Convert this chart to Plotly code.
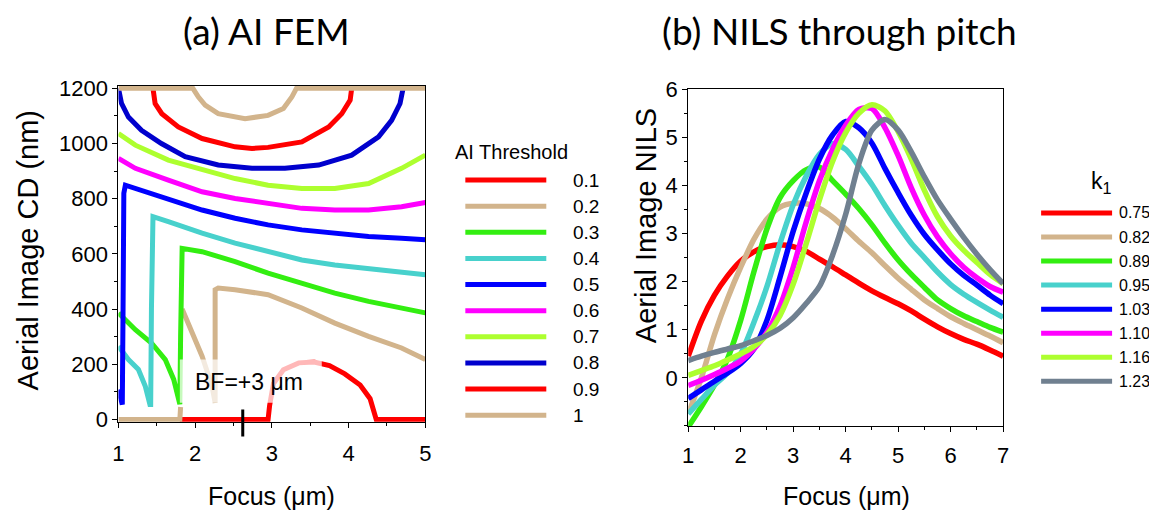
import plotly.graph_objects as go

W, H = 1157, 517

# ---------------- (a) AI FEM contour data ----------------
AI_LEVELS = ["0.1", "0.2", "0.3", "0.4", "0.5", "0.6", "0.7", "0.8", "0.9", "1"]
AI_COLORS = ["#FF0000", "#D2B48C", "#33EE11", "#48D1CC", "#0000FF",
             "#FF00FF", "#ADFF2F", "#0000CD", "#FF0000", "#D2B48C"]

C01_X = [1.80, 2.95, 2.97, 3.02, 3.15, 3.35, 3.55, 3.75, 3.95, 4.15, 4.28, 4.33, 4.36, 5.0]
C01_Y = [0, 0, 50, 130, 180, 205, 208, 195, 165, 125, 75, 30, 0, 0]
C02_X = [1.0, 1.80, 1.81, None, 1.83, 1.96, 2.09, 2.22, 2.26, 2.26, 2.30, 2.52, 2.95, 3.39, 3.82, 4.26, 4.69, 5.0]
C02_Y = [0, 0, 45, None, 400, 313, 229, 120, 60, 470, 476, 470, 452, 404, 349, 301, 259, 217]
C03_X = [1.0, 1.22, 1.43, 1.61, 1.72, 1.78, 1.80, 1.81, 1.82, 1.83, 2.09, 2.52, 2.95, 3.39, 3.82, 4.26, 4.69, 5.0]
C03_Y = [386, 325, 277, 217, 145, 72, 55, 300, 600, 620, 608, 572, 530, 494, 458, 428, 404, 386]
C04_X = [1.0, 1.13, 1.26, 1.35, 1.41, 1.42, 1.43, 1.45, 1.65, 2.09, 2.52, 2.95, 3.39, 3.82, 4.26, 4.69, 5.0]
C04_Y = [265, 217, 181, 120, 54, 54, 400, 735, 717, 675, 639, 608, 578, 560, 548, 536, 524]
C05_X = [1.0, 1.04, 1.05, 1.06, 1.07, 1.09, 1.22, 1.65, 2.09, 2.52, 2.95, 3.39, 3.82, 4.26, 4.69, 5.0]
C05_Y = [108, 54, 54, 400, 820, 849, 837, 795, 759, 729, 705, 687, 675, 663, 657, 651]
C06_X = [1.0, 1.22, 1.65, 2.09, 2.52, 2.95, 3.39, 3.82, 4.26, 4.69, 5.0]
C06_Y = [946, 910, 867, 825, 801, 783, 765, 759, 759, 771, 786]
C07_X = [1.0, 1.22, 1.65, 2.09, 2.52, 2.95, 3.39, 3.82, 4.26, 4.69, 5.0]
C07_Y = [1036, 994, 940, 904, 873, 849, 837, 837, 855, 910, 958]
C08_X = [1.0, 1.04, 1.13, 1.30, 1.56, 1.87, 2.30, 2.74, 3.17, 3.61, 4.04, 4.39, 4.56, 4.67, 4.71]
C08_Y = [1200, 1145, 1096, 1048, 1000, 952, 922, 910, 910, 922, 958, 1024, 1084, 1145, 1200]
C09_X = [1.45, 1.478, 1.565, 1.78, 2.09, 2.52, 2.74, 2.95, 3.39, 3.74, 3.91, 4.02, 4.04]
C09_Y = [1200, 1145, 1108, 1060, 1018, 988, 982, 986, 1006, 1060, 1108, 1157, 1200]
C10_X = [1.0, 1.97, 2.04, 2.13, 2.30, 2.65, 2.95, 3.15, 3.26, 3.32, 5.0]
C10_Y = [1200, 1200, 1169, 1139, 1108, 1090, 1102, 1127, 1169, 1200, 1200]

CONTOURS_X = [C01_X, C02_X, C03_X, C04_X, C05_X, C06_X, C07_X, C08_X, C09_X, C10_X]
CONTOURS_Y = [C01_Y, C02_Y, C03_Y, C04_Y, C05_Y, C06_Y, C07_Y, C08_Y, C09_Y, C10_Y]

FEM_XTICKS = [1, 2, 3, 4, 5]
FEM_YTICKS = [0, 200, 400, 600, 800, 1000, 1200]
BEST_FOCUS = 2.62
BF_LABEL = "BF=+3 μm"

# ---------------- (b) NILS through pitch data ----------------
FOCUS = [1.0, 1.25, 1.5, 1.75, 2.0, 2.25, 2.5, 2.75, 3.0, 3.25, 3.5, 3.75, 4.0,
         4.25, 4.5, 4.75, 5.0, 5.25, 5.5, 5.75, 6.0, 6.25, 6.5, 6.75, 7.0]
K1_LABELS = ["0.75", "0.82", "0.89", "0.95", "1.03", "1.10", "1.16", "1.23"]
K1_COLORS = ["#FF0000", "#D2B48C", "#33EE11", "#48D1CC", "#0000FF", "#FF00FF", "#ADFF2F", "#708090"]

NILS_075 = [0.45, 1.18, 1.72, 2.12, 2.43, 2.62, 2.73, 2.77, 2.73, 2.63, 2.47, 2.31, 2.14,
            1.97, 1.81, 1.67, 1.54, 1.39, 1.22, 1.06, 0.92, 0.80, 0.70, 0.58, 0.45]
NILS_082 = [-0.75, 0.0, 0.9, 1.65, 2.3, 2.88, 3.3, 3.55, 3.63, 3.62, 3.52, 3.34, 3.10,
            2.84, 2.60, 2.33, 2.07, 1.84, 1.62, 1.44, 1.27, 1.13, 1.00, 0.87, 0.73]
NILS_089 = [-1.02, -0.6, -0.15, 0.4, 1.2, 2.2, 3.1, 3.75, 4.1, 4.33, 4.38, 4.1, 3.82,
            3.52, 3.18, 2.8, 2.45, 2.15, 1.88, 1.62, 1.44, 1.29, 1.17, 1.05, 0.95]
NILS_095 = [-0.75, -0.45, -0.15, 0.1, 0.5, 1.15, 1.9, 2.8, 3.6, 4.2, 4.65, 4.87, 4.75,
            4.4, 4.02, 3.58, 3.17, 2.8, 2.5, 2.2, 1.94, 1.74, 1.57, 1.41, 1.26]
NILS_103 = [-0.43, -0.25, -0.07, 0.1, 0.3, 0.6, 1.2, 2.1, 3.05, 3.85, 4.55, 5.05, 5.33,
            5.2, 4.88, 4.35, 3.85, 3.38, 2.98, 2.66, 2.37, 2.13, 1.93, 1.72, 1.54]
NILS_110 = [-0.16, -0.05, 0.07, 0.2, 0.35, 0.6, 0.95, 1.5, 2.3, 3.25, 4.1, 4.75, 5.25,
            5.58, 5.6, 5.2, 4.62, 3.95, 3.38, 2.93, 2.58, 2.3, 2.08, 1.9, 1.78]
NILS_116 = [0.05, 0.15, 0.25, 0.37, 0.5, 0.65, 0.9, 1.3, 1.95, 2.8, 3.7, 4.5, 5.1,
            5.5, 5.68, 5.55, 5.12, 4.55, 3.9, 3.35, 2.95, 2.65, 2.4, 2.15, 1.96]
NILS_123 = [0.36, 0.45, 0.53, 0.6, 0.67, 0.77, 0.88, 1.03, 1.25, 1.55, 1.9, 2.55, 3.4,
            4.45, 5.15, 5.37, 5.15, 4.7, 4.18, 3.7, 3.3, 2.92, 2.57, 2.25, 1.96]
NILS_SERIES = [NILS_075, NILS_082, NILS_089, NILS_095, NILS_103, NILS_110, NILS_116, NILS_123]

NILS_XTICKS = [1, 2, 3, 4, 5, 6, 7]
NILS_YTICKS = [0, 1, 2, 3, 4, 5, 6]

# screen-pixel -> paper conversion (compensates the observed page offset/scale)
AX, BX = 12.5, 0.99
AY, BY = 19.5, 0.96


def px(x):
    return (x - AX) / BX / W


def py(y):
    return 1 - (y - AY) / BY / H


fig = go.Figure()

for lvl, col, xs, ys in zip(AI_LEVELS, AI_COLORS, CONTOURS_X, CONTOURS_Y):
    fig.add_trace(go.Scatter(x=xs, y=ys, mode="lines", name=lvl, showlegend=False,
                             line=dict(color=col, width=5), connectgaps=False,
                             xaxis="x", yaxis="y"))

for lab, col, vals in zip(K1_LABELS, K1_COLORS, NILS_SERIES):
    fig.add_trace(go.Scatter(x=FOCUS, y=vals, mode="lines", name=lab, showlegend=False,
                             line=dict(color=col, width=5.5, shape="spline", smoothing=0.8),
                             xaxis="x2", yaxis="y2"))

TICKFONT = dict(family="Liberation Sans, Arial", size=22, color="black")
common = dict(showgrid=False, zeroline=False, showline=True, linecolor="black", linewidth=1,
              mirror=True, ticks="outside", ticklen=5, tickcolor="black", tickfont=TICKFONT)

fig.update_layout(
    width=W, height=H, margin=dict(l=0, r=0, t=0, b=0),
    paper_bgcolor="white", plot_bgcolor="white", showlegend=False,
    xaxis=dict(domain=[px(117), px(424)], range=[1, 5], tickvals=FEM_XTICKS, ticklabelstandoff=7,
               minor=dict(dtick=0.5, ticks="outside", ticklen=3, tickcolor="black"), anchor="y", **common),
    yaxis=dict(domain=[py(422.2), py(85.8)], range=[-8, 1208], tickvals=FEM_YTICKS,
               minor=dict(tickvals=[100, 300, 500, 700, 900, 1100], ticks="outside", ticklen=3, tickcolor="black"),
               anchor="x", **common),
    xaxis2=dict(domain=[px(687), px(1002)], range=[1, 7], tickvals=NILS_XTICKS, ticklabelstandoff=5,
                minor=dict(dtick=0.5, ticks="outside", ticklen=3, tickcolor="black"), anchor="y2", **common),
    yaxis2=dict(domain=[py(426.5), py(89)], range=[-1, 6], tickvals=NILS_YTICKS,
                minor=dict(dtick=0.5, ticks="outside", ticklen=3, tickcolor="black"), anchor="x2", **common),
)

shapes = []
annotations = []

# BF label box (semi-transparent) and best focus marker
shapes.append(dict(type="rect", xref="x", yref="y", x0=1.80, x1=3.65, y0=60, y1=217,
                   fillcolor="rgba(255,255,255,0.72)", line=dict(width=0), layer="above"))
annotations.append(dict(text=BF_LABEL, xref="x", yref="y", x=2.70, y=137, showarrow=False,
                        font=dict(family="Liberation Sans, Arial", size=23, color="black")))
shapes.append(dict(type="line", xref="x", yref="paper", x0=BEST_FOCUS, x1=BEST_FOCUS,
                   y0=py(437), y1=py(410), line=dict(color="black", width=3)))

# Panel titles
TITLEFONT = dict(family="Lato, Open Sans", size=37, color="black")
annotations.append(dict(text="(a) AI FEM", xref="paper", yref="paper", x=px(265), y=py(30),
                        showarrow=False, font=TITLEFONT, xanchor="center", yanchor="middle", borderpad=0))
annotations.append(dict(text="(b) NILS through pitch", xref="paper", yref="paper", x=px(838), y=py(30),
                        showarrow=False, font=TITLEFONT, xanchor="center", yanchor="middle", borderpad=0))

# Axis titles
XTFONT = dict(family="Liberation Sans, Arial", size=25, color="black")
YTFONT = dict(family="Liberation Sans, Arial", size=29, color="black")
annotations.append(dict(text="Focus (μm)", xref="paper", yref="paper", x=px(270), y=py(497),
                        showarrow=False, font=XTFONT, xanchor="center", yanchor="middle"))
annotations.append(dict(text="Focus (μm)", xref="paper", yref="paper", x=px(845), y=py(497),
                        showarrow=False, font=XTFONT, xanchor="center", yanchor="middle"))
annotations.append(dict(text="Aerial Image CD (nm)", xref="paper", yref="paper", x=px(26), y=py(250),
                        showarrow=False, font=YTFONT, textangle=-90, xanchor="center", yanchor="middle",
                        borderpad=0))
annotations.append(dict(text="Aerial Image NILS", xref="paper", yref="paper", x=px(645), y=py(226),
                        showarrow=False, font=YTFONT, textangle=-90, xanchor="center", yanchor="middle"))

# Legend (a)
LEGFONT = dict(family="Liberation Sans, Arial", size=19, color="black")
annotations.append(dict(text="AI Threshold", xref="paper", yref="paper", x=px(452), y=py(152),
                        showarrow=False, font=dict(family="Liberation Sans, Arial", size=20, color="black"),
                        xanchor="left", yanchor="middle"))
for i, (lvl, col) in enumerate(zip(AI_LEVELS, AI_COLORS)):
    yy = 180 + 26.2 * i
    shapes.append(dict(type="line", xref="paper", yref="paper", x0=px(464), x1=px(545),
                       y0=py(yy), y1=py(yy), line=dict(color=col, width=5)))
    annotations.append(dict(text=lvl, xref="paper", yref="paper", x=px(570), y=py(yy),
                            showarrow=False, font=LEGFONT, xanchor="left", yanchor="middle"))

# Legend (b)
LEG2FONT = dict(family="Liberation Sans, Arial", size=16, color="black")
annotations.append(dict(text="k<sub>1</sub>", xref="paper", yref="paper", x=px(1100), y=py(182),
                        showarrow=False, font=dict(family="Liberation Sans, Arial", size=23, color="black"),
                        xanchor="center", yanchor="middle"))
for i, (lab, col) in enumerate(zip(K1_LABELS, K1_COLORS)):
    yy = 213 + 24.1 * i
    shapes.append(dict(type="line", xref="paper", yref="paper", x0=px(1040), x1=px(1111),
                       y0=py(yy), y1=py(yy), line=dict(color=col, width=5)))
    annotations.append(dict(text=lab, xref="paper", yref="paper", x=px(1116), y=py(yy),
                            showarrow=False, font=LEG2FONT, xanchor="left", yanchor="middle"))

fig.update_layout(shapes=shapes, annotations=annotations)
fig.write_html("out.html")
